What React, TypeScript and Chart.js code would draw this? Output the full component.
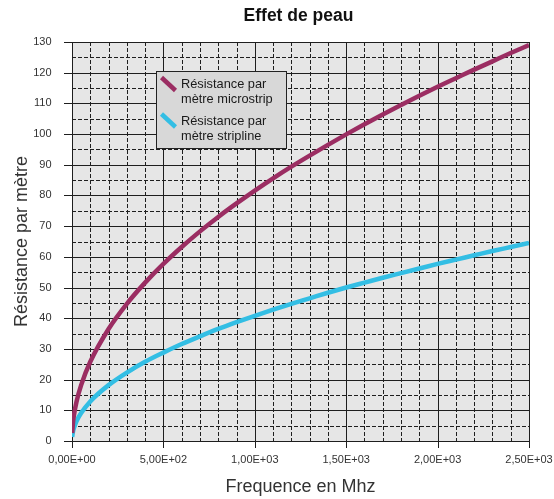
import React, { useEffect, useRef } from "react";
import { Chart, registerables } from "chart.js";

Chart.register(...registerables);

const TITLE = "Effet de peau";
const X_TITLE = "Frequence en Mhz";
const Y_TITLE = "Résistance par mètre";

const frequencies = [1, 5, 10, 25, 50, 100, 200, 300, 400, 500, 600, 700, 800, 900, 1000, 1100, 1200, 1300, 1400, 1500, 1600, 1700, 1800, 1900, 2000, 2100, 2200, 2300, 2400, 2500];
const microstrip = [2.6, 5.8, 8.2, 12.9, 18.2, 25.8, 36.5, 44.7, 51.6, 57.7, 63.2, 68.3, 73.0, 77.4, 81.6, 85.6, 89.4, 93.0, 96.5, 99.9, 103.2, 106.4, 109.5, 112.5, 115.4, 118.2, 121.0, 123.7, 126.4, 129.0];
const stripline = [1.3, 2.9, 4.1, 6.5, 9.1, 12.9, 18.2, 22.3, 25.8, 28.8, 31.6, 34.1, 36.5, 38.7, 40.8, 42.8, 44.7, 46.5, 48.3, 50.0, 51.6, 53.2, 54.7, 56.2, 57.7, 59.1, 60.5, 61.9, 63.2, 64.5];

const seriesLabels = [["Résistance par", "mètre microstrip"], ["Résistance par", "mètre stripline"]];
const seriesColors = ["#9B2D62", "#33BEE4"];

const X_MIN = 0, X_MAX = 2500, X_MAJOR = 500, X_MINOR = 100;
const Y_MIN = 0, Y_MAX = 130, Y_MAJOR = 10, Y_MINOR = 5;

const FONT = "'Liberation Sans', Arial, sans-serif";

function fmtSci(v: number): string {
  if (v === 0) return "0,00E+00";
  const e = Math.floor(Math.log10(Math.abs(v)));
  const m = v / Math.pow(10, e);
  return m.toFixed(2).replace(".", ",") + "E+" + String(e).padStart(2, "0");
}

const gridPlugin = {
  id: "customGrid",
  beforeDatasetsDraw(chart: any) {
    const { ctx, chartArea, scales } = chart;
    const { left, right, top, bottom } = chartArea;
    const x = scales.x, y = scales.y;
    ctx.save();
    ctx.fillStyle = "#e6e6e6";
    ctx.fillRect(left, top, right - left, bottom - top);
    ctx.strokeStyle = "#1e1e1e";
    ctx.lineWidth = 1;
    const line = (x1: number, y1: number, x2: number, y2: number) => {
      ctx.beginPath();
      ctx.moveTo(x1, y1);
      ctx.lineTo(x2, y2);
      ctx.stroke();
    };
    ctx.setLineDash([4, 2]);
    for (let v = X_MIN; v <= X_MAX; v += X_MINOR) {
      if (v % X_MAJOR === 0) continue;
      const px = Math.round(x.getPixelForValue(v)) + 0.5;
      line(px, top, px, bottom);
    }
    for (let v = Y_MIN; v <= Y_MAX; v += Y_MINOR) {
      if (v % Y_MAJOR === 0) continue;
      const py = Math.round(y.getPixelForValue(v)) + 0.5;
      line(left, py, right, py);
    }
    ctx.setLineDash([]);
    for (let v = X_MIN; v <= X_MAX; v += X_MAJOR) {
      const px = Math.round(x.getPixelForValue(v)) + 0.5;
      line(px, top, px, bottom + 7);
    }
    for (let v = Y_MIN; v <= Y_MAX; v += Y_MAJOR) {
      const py = Math.round(y.getPixelForValue(v)) + 0.5;
      line(left - 8, py, right, py);
    }
    ctx.restore();
  },
};

const titlePlugin = {
  id: "customTitle",
  afterDraw(chart: any) {
    const { ctx, chartArea } = chart;
    ctx.save();
    ctx.font = "bold 17.5px " + FONT;
    ctx.fillStyle = "#111";
    ctx.textAlign = "center";
    ctx.textBaseline = "middle";
    ctx.fillText(TITLE, (chartArea.left + chartArea.right) / 2 - 2, 16);
    ctx.restore();
  },
};

const legendPlugin = {
  id: "customLegend",
  afterDraw(chart: any) {
    const { ctx, chartArea } = chart;
    const bx = chartArea.left + 84.5;
    const by = chartArea.top + 29.5;
    const bw = 130;
    const bh = 77;
    ctx.save();
    ctx.fillStyle = "#d8d8d8";
    ctx.fillRect(bx, by, bw, bh);
    ctx.strokeStyle = "#222";
    ctx.lineWidth = 1;
    ctx.strokeRect(bx, by, bw, bh);
    ctx.font = "12.8px " + FONT;
    ctx.textBaseline = "middle";
    ctx.textAlign = "left";
    seriesLabels.forEach((lines, i) => {
      const y0 = by + 13 + i * 36.5;
      ctx.strokeStyle = seriesColors[i];
      ctx.lineWidth = 4.5;
      ctx.lineCap = "butt";
      ctx.beginPath();
      ctx.moveTo(bx + 5, y0 - 7);
      ctx.lineTo(bx + 19, y0 + 6);
      ctx.stroke();
      ctx.fillStyle = "#1a1a1a";
      lines.forEach((t, j) => ctx.fillText(t, bx + 24.5, y0 + j * 15));
    });
    ctx.restore();
  },
};

export default function App() {
  const ref = useRef<HTMLCanvasElement | null>(null);
  useEffect(() => {
    if (!ref.current) return;
    Chart.defaults.font.family = FONT;
    const chart = new Chart(ref.current, {
      type: "line",
      data: {
        datasets: [
          {
            label: seriesLabels[0].join(" "),
            data: frequencies.map((f, i) => ({ x: f, y: microstrip[i] })),
            borderColor: seriesColors[0],
            backgroundColor: seriesColors[0],
            borderWidth: 4.5,
            pointRadius: 0,
            cubicInterpolationMode: "monotone",
          },
          {
            label: seriesLabels[1].join(" "),
            data: frequencies.map((f, i) => ({ x: f, y: stripline[i] })),
            borderColor: seriesColors[1],
            backgroundColor: seriesColors[1],
            borderWidth: 4.5,
            pointRadius: 0,
            cubicInterpolationMode: "monotone",
          },
        ],
      },
      options: {
        responsive: false,
        animation: false,
        layout: { padding: { left: 0, right: 25, top: 42, bottom: 0 } },
        plugins: {
          legend: { display: false },
          tooltip: { enabled: false },
          title: { display: false },
        },
        scales: {
          x: {
            type: "linear",
            min: X_MIN,
            max: X_MAX,
            grid: { display: false },
            border: { display: false },
            ticks: {
              stepSize: X_MAJOR,
              padding: 4.5,
              color: "#333",
              font: { size: 11 },
              maxRotation: 0,
              callback: (v: any) => fmtSci(Number(v)),
            },
            title: {
              display: true,
              text: X_TITLE,
              color: "#333",
              font: { size: 18 },
              padding: { top: 0, bottom: 1.5 },
            },
            afterFit: (s: any) => {
              s.height = 58;
              s.paddingRight = 0;
              s.paddingLeft = 0;
            },
          },
          y: {
            min: Y_MIN,
            max: Y_MAX,
            grid: { display: false },
            border: { display: false },
            ticks: {
              stepSize: Y_MAJOR,
              padding: 12.5,
              color: "#333",
              font: { size: 11 },
            },
            title: {
              display: true,
              text: Y_TITLE,
              color: "#333",
              font: { size: 18 },
              padding: { top: 11.5, bottom: 0 },
            },
            afterFit: (s: any) => {
              s.width = 72;
              s.paddingTop = 0;
              s.paddingBottom = 0;
            },
          },
        },
      },
      plugins: [gridPlugin, legendPlugin, titlePlugin],
    });
    return () => chart.destroy();
  }, []);
  return (
    <div style={{ position: "fixed", left: 0, top: 0, width: 554, height: 499, background: "#fff" }}>
      <canvas ref={ref} width={554} height={499} style={{ display: "block" }} />
    </div>
  );
}
